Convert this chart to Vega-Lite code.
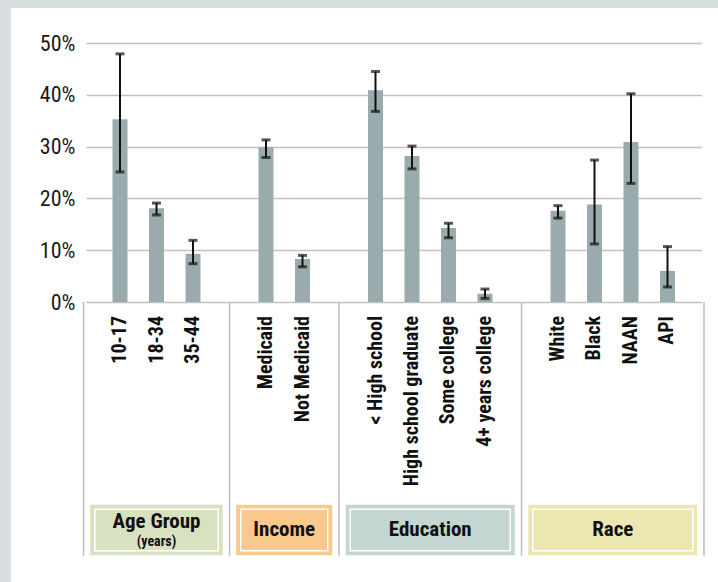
{
  "$schema": "https://vega.github.io/schema/vega-lite/v6.json",
  "width": 707,
  "height": 574,
  "autosize": {"type": "none"},
  "padding": {"left": 11, "top": 8, "right": 0, "bottom": 0},
  "background": "#d9dfe1",
  "view": {"fill": "white", "stroke": null},
  "config": {"font": "Roboto Condensed, Roboto, sans-serif"},
  "datasets": {
    "bars": [
      {"category": "10-17", "group": "Age Group", "value": 0.353, "lo": 0.251, "hi": 0.479},
      {"category": "18-34", "group": "Age Group", "value": 0.181, "lo": 0.168, "hi": 0.191},
      {"category": "35-44", "group": "Age Group", "value": 0.093, "lo": 0.074, "hi": 0.119},
      {"category": "Medicaid", "group": "Income", "value": 0.299, "lo": 0.279, "hi": 0.313},
      {"category": "Not Medicaid", "group": "Income", "value": 0.083, "lo": 0.068, "hi": 0.090},
      {"category": "< High school", "group": "Education", "value": 0.409, "lo": 0.368, "hi": 0.445},
      {"category": "High school graduate", "group": "Education", "value": 0.282, "lo": 0.257, "hi": 0.301},
      {"category": "Some college", "group": "Education", "value": 0.143, "lo": 0.124, "hi": 0.152},
      {"category": "4+ years college", "group": "Education", "value": 0.016, "lo": 0.007, "hi": 0.025},
      {"category": "White", "group": "Race", "value": 0.176, "lo": 0.162, "hi": 0.186},
      {"category": "Black", "group": "Race", "value": 0.188, "lo": 0.112, "hi": 0.274},
      {"category": "NAAN", "group": "Race", "value": 0.309, "lo": 0.229, "hi": 0.402},
      {"category": "API", "group": "Race", "value": 0.060, "lo": 0.029, "hi": 0.107}
    ],
    "groups": [
      {"group": "Age Group", "sub": "(years)", "from": "e0", "to": "s1", "mid": "18-34"},
      {"group": "Income", "from": "s1", "to": "s2", "mid": "Medicaid"},
      {"group": "Education", "from": "s2", "to": "s3", "mid": "High school graduate"},
      {"group": "Race", "from": "s3", "to": "e1", "mid": "Black"}
    ],
    "seps": [{"sep": "e0"}, {"sep": "s1"}, {"sep": "s2"}, {"sep": "s3"}, {"sep": "e1"}]
  },
  "layer": [
    {
      "data": {"name": "bars"},
      "mark": {"type": "bar", "color": "#9aabad"},
      "encoding": {
        "x": {"field": "category", "type": "nominal", "axis": null,
          "scale": {"type": "band", "domain": ["e0","10-17","18-34","35-44","s1","Medicaid","Not Medicaid","s2","< High school","High school graduate","Some college","4+ years college","s3","White","Black","NAAN","API","e1"], "range": [65, 700.5], "paddingInner": 0.589, "paddingOuter": 0}},
        "y": {"field": "value", "type": "quantitative",
          "scale": {"domain": [0, 0.5], "range": [294, 35], "nice": false, "zero": false},
          "axis": {"orient": "left", "offset": -75, "values": [0, 0.1, 0.2, 0.3, 0.4, 0.5], "format": ".0%", "title": null, "domain": false, "ticks": false, "labelPadding": 11, "labelFontSize": 22, "labelColor": "#1a1a1a", "grid": true, "gridColor": "#c2c2c2", "gridWidth": 1.5, "gridDash": [0, 10, 615.5, 100]}}
      }
    },
    {
      "data": {"name": "seps"},
      "mark": {"type": "rule", "color": "#bdbdbd", "strokeWidth": 1.5},
      "encoding": {
        "x": {"field": "sep", "type": "nominal", "axis": null},
        "y": {"datum": 0, "type": "quantitative",
          "axis": {"orient": "left", "offset": -75, "values": [0, 0.1, 0.2, 0.3, 0.4, 0.5], "format": ".0%", "title": null, "domain": false, "ticks": false, "labelPadding": 11, "labelFontSize": 22, "labelColor": "#1a1a1a", "grid": true, "gridColor": "#c2c2c2", "gridWidth": 1.5, "gridDash": [0, 10, 615.5, 100]}},
        "y2": {"datum": -0.49}
      }
    },
    {
      "data": {"name": "bars"},
      "mark": {"type": "rule", "color": "#111111", "strokeWidth": 2},
      "encoding": {
        "x": {"field": "category", "type": "nominal", "axis": null},
        "y": {"field": "lo", "type": "quantitative",
          "axis": {"orient": "left", "offset": -75, "values": [0, 0.1, 0.2, 0.3, 0.4, 0.5], "format": ".0%", "title": null, "domain": false, "ticks": false, "labelPadding": 11, "labelFontSize": 22, "labelColor": "#1a1a1a", "grid": true, "gridColor": "#c2c2c2", "gridWidth": 1.5, "gridDash": [0, 10, 615.5, 100]}},
        "y2": {"field": "hi"}
      }
    },
    {
      "data": {"name": "bars"},
      "mark": {"type": "tick", "orient": "horizontal", "color": "#111111", "size": 9, "thickness": 3},
      "encoding": {
        "x": {"field": "category", "type": "nominal", "axis": null},
        "y": {"field": "lo", "type": "quantitative",
          "axis": {"orient": "left", "offset": -75, "values": [0, 0.1, 0.2, 0.3, 0.4, 0.5], "format": ".0%", "title": null, "domain": false, "ticks": false, "labelPadding": 11, "labelFontSize": 22, "labelColor": "#1a1a1a", "grid": true, "gridColor": "#c2c2c2", "gridWidth": 1.5, "gridDash": [0, 10, 615.5, 100]}}
      }
    },
    {
      "data": {"name": "bars"},
      "mark": {"type": "tick", "orient": "horizontal", "color": "#111111", "size": 9, "thickness": 3},
      "encoding": {
        "x": {"field": "category", "type": "nominal", "axis": null},
        "y": {"field": "hi", "type": "quantitative",
          "axis": {"orient": "left", "offset": -75, "values": [0, 0.1, 0.2, 0.3, 0.4, 0.5], "format": ".0%", "title": null, "domain": false, "ticks": false, "labelPadding": 11, "labelFontSize": 22, "labelColor": "#1a1a1a", "grid": true, "gridColor": "#c2c2c2", "gridWidth": 1.5, "gridDash": [0, 10, 615.5, 100]}}
      }
    },
    {
      "data": {"name": "bars"},
      "mark": {"type": "text", "angle": 270, "align": "right", "baseline": "middle", "dx": -14, "fontSize": 20, "fontWeight": "bold", "color": "#111111"},
      "encoding": {
        "x": {"field": "category", "type": "nominal", "axis": null},
        "y": {"datum": 0, "type": "quantitative",
          "axis": {"orient": "left", "offset": -75, "values": [0, 0.1, 0.2, 0.3, 0.4, 0.5], "format": ".0%", "title": null, "domain": false, "ticks": false, "labelPadding": 11, "labelFontSize": 22, "labelColor": "#1a1a1a", "grid": true, "gridColor": "#c2c2c2", "gridWidth": 1.5, "gridDash": [0, 10, 615.5, 100]}},
        "text": {"field": "category"}
      }
    },
    {
      "data": {"name": "groups"},
      "mark": {"type": "rect", "strokeWidth": 9},
      "encoding": {
        "x": {"field": "from", "type": "nominal", "bandPosition": 1.25, "axis": null},
        "x2": {"field": "to", "bandPosition": -0.25},
        "y": {"datum": -0.40, "type": "quantitative",
          "axis": {"orient": "left", "offset": -75, "values": [0, 0.1, 0.2, 0.3, 0.4, 0.5], "format": ".0%", "title": null, "domain": false, "ticks": false, "labelPadding": 11, "labelFontSize": 22, "labelColor": "#1a1a1a", "grid": true, "gridColor": "#c2c2c2", "gridWidth": 1.5, "gridDash": [0, 10, 615.5, 100]}},
        "y2": {"datum": -0.48},
        "fill": {"field": "group", "type": "nominal", "legend": null,
          "scale": {"domain": ["Age Group", "Income", "Education", "Race"], "range": ["#d9e2c0", "#f9c98b", "#c3d6d2", "#ece7b1"]}},
        "stroke": {"field": "group", "type": "nominal", "legend": null,
          "scale": {"domain": ["Age Group", "Income", "Education", "Race"], "range": ["#d9e2c0", "#f9c98b", "#c3d6d2", "#ece7b1"]}}
      }
    },
    {
      "data": {"name": "groups"},
      "mark": {"type": "rect", "fillOpacity": 0, "stroke": "white", "strokeWidth": 1.5},
      "encoding": {
        "x": {"field": "from", "type": "nominal", "bandPosition": 1.25, "axis": null},
        "x2": {"field": "to", "bandPosition": -0.25},
        "y": {"datum": -0.40, "type": "quantitative",
          "axis": {"orient": "left", "offset": -75, "values": [0, 0.1, 0.2, 0.3, 0.4, 0.5], "format": ".0%", "title": null, "domain": false, "ticks": false, "labelPadding": 11, "labelFontSize": 22, "labelColor": "#1a1a1a", "grid": true, "gridColor": "#c2c2c2", "gridWidth": 1.5, "gridDash": [0, 10, 615.5, 100]}},
        "y2": {"datum": -0.48}
      }
    },
    {
      "data": {"name": "groups"},
      "transform": [{"filter": "!datum.sub"}],
      "mark": {"type": "text", "align": "center", "baseline": "middle", "fontSize": 21, "fontWeight": "bold", "color": "#111111"},
      "encoding": {
        "x": {"field": "mid", "type": "nominal", "bandPosition": 1.7165, "axis": null},
        "y": {"datum": -0.44, "type": "quantitative",
          "axis": {"orient": "left", "offset": -75, "values": [0, 0.1, 0.2, 0.3, 0.4, 0.5], "format": ".0%", "title": null, "domain": false, "ticks": false, "labelPadding": 11, "labelFontSize": 22, "labelColor": "#1a1a1a", "grid": true, "gridColor": "#c2c2c2", "gridWidth": 1.5, "gridDash": [0, 10, 615.5, 100]}},
        "text": {"field": "group"}
      }
    },
    {
      "data": {"name": "groups"},
      "transform": [{"filter": "datum.sub"}],
      "mark": {"type": "text", "align": "center", "baseline": "middle", "fontSize": 21, "fontWeight": "bold", "color": "#111111", "dy": -8},
      "encoding": {
        "x": {"field": "mid", "type": "nominal", "axis": null},
        "y": {"datum": -0.44, "type": "quantitative",
          "axis": {"orient": "left", "offset": -75, "values": [0, 0.1, 0.2, 0.3, 0.4, 0.5], "format": ".0%", "title": null, "domain": false, "ticks": false, "labelPadding": 11, "labelFontSize": 22, "labelColor": "#1a1a1a", "grid": true, "gridColor": "#c2c2c2", "gridWidth": 1.5, "gridDash": [0, 10, 615.5, 100]}},
        "text": {"field": "group"}
      }
    },
    {
      "data": {"name": "groups"},
      "transform": [{"filter": "datum.sub"}],
      "mark": {"type": "text", "align": "center", "baseline": "middle", "fontSize": 14, "fontWeight": "bold", "color": "#111111", "dy": 12},
      "encoding": {
        "x": {"field": "mid", "type": "nominal", "axis": null},
        "y": {"datum": -0.44, "type": "quantitative",
          "axis": {"orient": "left", "offset": -75, "values": [0, 0.1, 0.2, 0.3, 0.4, 0.5], "format": ".0%", "title": null, "domain": false, "ticks": false, "labelPadding": 11, "labelFontSize": 22, "labelColor": "#1a1a1a", "grid": true, "gridColor": "#c2c2c2", "gridWidth": 1.5, "gridDash": [0, 10, 615.5, 100]}},
        "text": {"field": "sub"}
      }
    }
  ]
}
